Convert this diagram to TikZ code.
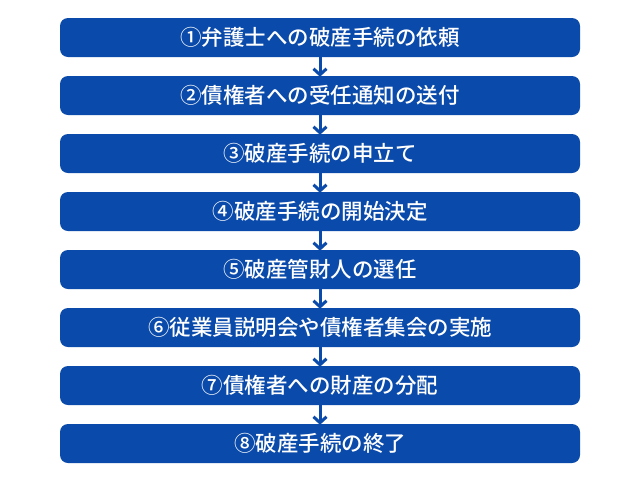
\documentclass[tikz,border=0pt]{standalone}
\usepackage{fontspec}
\newfontfamily\cjk{Noto Sans CJK JP}[UprightFont={* Medium}]
\usetikzlibrary{arrows.meta}
\definecolor{boxblue}{RGB}{10,74,170}
\tikzset{
  stepbox/.style={fill=boxblue, draw=none, rounded corners=8pt, minimum width=520pt, minimum height=39pt, inner sep=0pt, text=white, font=\cjk\fontsize{21.5pt}{23pt}\selectfont},
  flowarrow/.style={draw=boxblue, line width=3pt, -{Straight Barb[length=6pt,width=13pt]}}
}
\begin{document}
\begin{tikzpicture}[x=1pt,y=-1pt]
\useasboundingbox (0,0) rectangle (640,480);
\node[stepbox] (s1) at (320,37.5) {①弁護士への破産手続の依頼};
\node[stepbox] (s2) at (320,95.5) {②債権者への受任通知の送付};
\node[stepbox] (s3) at (320,153.5) {③破産手続の申立て};
\node[stepbox] (s4) at (320,211.5) {④破産手続の開始決定};
\node[stepbox] (s5) at (320,269.5) {⑤破産管財人の選任};
\node[stepbox] (s6) at (320,327.5) {⑥従業員説明会や債権者集会の実施};
\node[stepbox] (s7) at (320,385.5) {⑦債権者への財産の分配};
\node[stepbox] (s8) at (320,443.5) {⑧破産手続の終了};
\foreach \a/\b in {s1/s2,s2/s3,s3/s4,s4/s5,s5/s6,s6/s7,s7/s8}
  \draw[flowarrow] (\a.south) -- ([yshift=-1pt]\b.north);
\end{tikzpicture}
\end{document}
